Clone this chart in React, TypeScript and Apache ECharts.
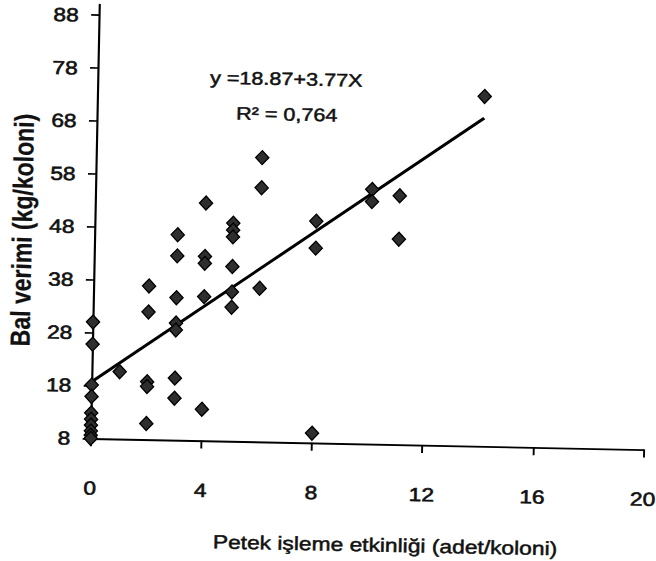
import React, { useEffect, useRef } from "react";
import * as echarts from "echarts";

// ---- data ----
const dataX = [
  0, 0, 0, 0, 0, 0, 0, 0, 0, 0,
  1,
  2, 2, 2, 2, 2,
  3, 3, 3, 3, 3, 3, 3,
  4, 4, 4, 4, 4,
  5, 5, 5, 5, 5, 5,
  6, 6, 6,
  8, 8, 8,
  10, 10,
  11, 11,
  14,
];
const dataY = [
  30.0, 25.8, 18.1, 15.9, 12.8, 11.6, 10.5, 9.4, 8.6, 8.0,
  20.7,
  37.0, 32.1, 18.9, 18.0, 11.0,
  46.8, 42.8, 34.9, 30.1, 28.8, 19.7, 15.9,
  52.9, 42.8, 41.5, 35.2, 13.9,
  49.2, 47.9, 46.6, 41.0, 36.2, 33.3,
  61.7, 56.0, 37.0,
  49.9, 44.8, 9.8,
  56.1, 53.8,
  55.0, 46.8,
  74.1,
];
const trendX = [0, 14];
const trendY = [18.7, 70.0];
const xTickValues = [0, 4, 8, 12, 16, 20];
const yTickValues = [8, 18, 28, 38, 48, 58, 68, 78, 88];

const equationText = "y =18.87+3.77X";
const r2Text = "R\u00B2 = 0,764";
const xTitle = "Petek işleme etkinliği (adet/koloni)";
const yTitle = "Bal verimi (kg/koloni)";

// ---- layout (local, before the scan-like stretch/rotation) ----
const W = 570;
const H = 561;
const OX = 90.7;
const OY = 438.3;
const SX = 1.2;
const ROT = 1.15;
const FONT = '"Liberation Sans", Arial, sans-serif';

export default function App() {
  const ref = useRef<HTMLDivElement>(null);

  useEffect(() => {
    if (!ref.current) return;
    const chart = echarts.init(ref.current, null, {
      renderer: "svg",
      width: W,
      height: H,
    });
    const points = dataX.map((x, i) => [x, dataY[i]]);
    const trend = trendX.map((x, i) => [x, trendY[i]]);
    const labelStyle = {
      fontSize: 19,
      color: "#111",
      fontFamily: FONT,
      textBorderColor: "#111",
      textBorderWidth: 0.6,
    };
    const textStyle = (size: number, weight = "normal") => ({
      font: `${weight} ${size}px ${FONT}`,
      fill: "#111",
      stroke: "#111",
      lineWidth: 0.5,
      textAlign: "center",
      textVerticalAlign: "middle",
    });
    chart.setOption({
      animation: false,
      backgroundColor: "#ffffff",
      grid: { left: OX, top: 4.5, width: 460.8, height: 433.8 },
      xAxis: {
        type: "value",
        min: xTickValues[0],
        max: xTickValues[xTickValues.length - 1],
        interval: 4,
        axisLine: { onZero: false, lineStyle: { color: "#000", width: 1.9 } },
        axisTick: { length: 8, lineStyle: { color: "#000", width: 1.6 } },
        axisLabel: { margin: 40, ...labelStyle },
        splitLine: { show: false },
      },
      yAxis: {
        type: "value",
        min: 8,
        max: 90,
        axisLine: { onZero: false, lineStyle: { color: "#000", width: 1.8 } },
        axisTick: {
          length: 6.7,
          customValues: yTickValues,
          lineStyle: { color: "#000", width: 1.6 },
        },
        axisLabel: { customValues: yTickValues, margin: 17, ...labelStyle },
        splitLine: { show: false },
      },
      series: [
        {
          type: "line",
          data: trend,
          symbol: "none",
          lineStyle: { color: "#000", width: 2.8 },
          silent: true,
          z: 2,
        },
        {
          type: "scatter",
          data: points,
          symbol: "diamond",
          symbolSize: [11, 14],
          clip: false,
          itemStyle: {
            color: "#2e2e2e",
            borderColor: "#000",
            borderWidth: 1.2,
            opacity: 1,
          },
          z: 3,
        },
      ],
      graphic: [
        {
          type: "text",
          x: 247.6,
          y: 75,
          style: { text: equationText, ...textStyle(18) },
        },
        {
          type: "text",
          x: 248.6,
          y: 110.3,
          style: { text: r2Text, ...textStyle(18) },
        },
        {
          type: "text",
          x: 337.7,
          y: 539.1,
          style: { text: xTitle, ...textStyle(19) },
        },
        {
          type: "text",
          x: 30,
          y: 231.4,
          rotation: Math.PI / 2,
          style: { text: yTitle, ...textStyle(23, "bold"), lineWidth: 0.2 },
        },
      ],
    });
    return () => chart.dispose();
  }, []);

  return (
    <div
      style={{
        position: "fixed",
        left: 0,
        top: 0,
        width: 656,
        height: 561,
        overflow: "hidden",
        background: "#fff",
      }}
    >
      <div
        ref={ref}
        style={{
          position: "absolute",
          left: 0,
          top: 0,
          width: W,
          height: H,
          transformOrigin: `${OX}px ${OY}px`,
          transform: `rotate(${ROT}deg) scaleX(${SX})`,
        }}
      />
    </div>
  );
}
